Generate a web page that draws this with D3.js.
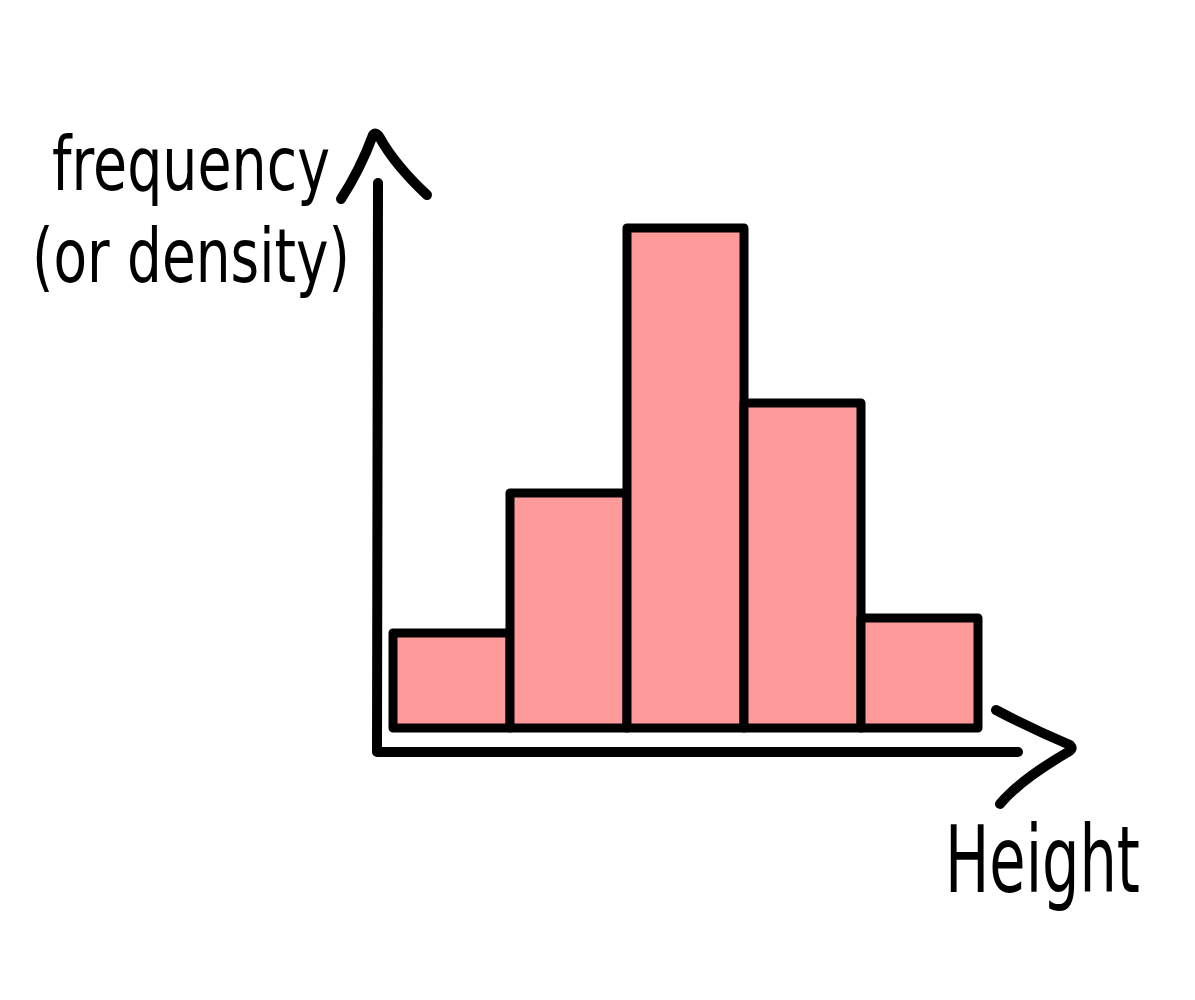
<!DOCTYPE html>
<html>
<head>
<meta charset="utf-8">
<script src="https://cdn.jsdelivr.net/npm/d3@7"></script>
<style>
  html, body { margin: 0; padding: 0; background: #fff; }
  svg { display: block; }
</style>
</head>
<body>
<svg id="chart" width="1195" height="1000"></svg>
<script>
// Data
const binEdges = [0, 1, 2, 3, 4, 5];
const frequencies = [19, 47, 100, 65, 22];
const yLabelLines = ["frequency", "(or density)"];
const xLabel = "Height";

const svg = d3.select("#chart");
const x = d3.scaleLinear().domain([0, 5]).range([393, 978]);
const y = d3.scaleLinear().domain([0, 100]).range([728, 228]);

const bins = frequencies.map((f, i) => ({ x0: binEdges[i], x1: binEdges[i + 1], f }));

svg.append("g").selectAll("rect").data(bins).join("rect")
  .attr("x", d => x(d.x0))
  .attr("y", d => y(d.f))
  .attr("width", d => x(d.x1) - x(d.x0))
  .attr("height", d => y(0) - y(d.f))
  .attr("fill", "#ff9a9a")
  .attr("stroke", "#000")
  .attr("stroke-width", 9)
  .attr("stroke-linejoin", "round");

const axisStyle = sel => sel.attr("fill", "none").attr("stroke", "#000")
  .attr("stroke-width", 10).attr("stroke-linecap", "round").attr("stroke-linejoin", "round");

// Axes
const axisX = 378, axisY = 752;
svg.append("path").call(axisStyle)
  .attr("d", `M${axisX},183 L${axisX - 1},${axisY} L1018,${axisY}`);
// Y arrowhead
svg.append("path").call(axisStyle)
  .attr("d", "M341,199 Q360,170 373,135 Q376,131 380,138 Q395,165 427,195");
// X arrowhead
svg.append("path").call(axisStyle)
  .attr("d", "M996,710 Q1030,728 1070,745 Q1074,749 1068,752 Q1020,780 1000,804");

// Labels: fit each to a target width by horizontal scaling
function fitText(txt, px, py, w, size) {
  const t = svg.append("text")
    .attr("x", 0).attr("y", 0)
    .attr("font-family", "'DejaVu Sans', sans-serif")
    .attr("font-size", size)
    .attr("fill", "#000")
    .text(txt);
  const natural = t.node().getComputedTextLength();
  t.attr("transform", `translate(${px},${py}) scale(${w / natural},1)`);
}
yLabelLines.forEach((line, i) => {
  if (i === 0) fitText(line, 52, 190, 278, 74);
  else fitText(line, 32, 282, 318, 74);
});
fitText(xLabel, 945, 892, 195, 92);
</script>
</body>
</html>
